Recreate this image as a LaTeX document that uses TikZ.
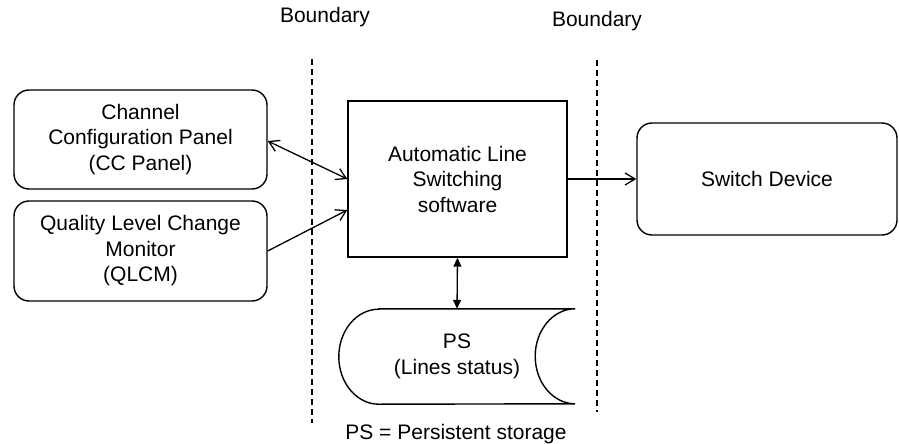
\documentclass[tikz,border=0pt]{standalone}
\usepackage{fontspec}
\setmainfont{Liberation Sans}
\usetikzlibrary{arrows.meta,calc}
\tikzset{
  lbl/.style={font=\fontsize{21}{25.5}\selectfont, align=center, inner sep=0pt},
  rbox/.style={lbl, draw, line width=1.4pt, rounded corners=15pt},
  sbox/.style={lbl, draw, line width=1.4pt},
  conn/.style={line width=1.3pt},
  openhead/.style={-{Straight Barb[length=10pt,width=12pt,line width=1.3pt]}},
  openboth/.style={{Straight Barb[length=10pt,width=12pt,line width=1.3pt]}-{Straight Barb[length=10pt,width=12pt,line width=1.3pt]}},
  fillboth/.style={{Triangle[length=9pt,width=8pt]}-{Triangle[length=9pt,width=8pt]}},
  bound/.style={line width=1.3pt, dash pattern=on 6pt off 4pt},
}
\begin{document}
\begin{tikzpicture}[x=1pt,y=-1pt]
\useasboundingbox (0,0) rectangle (899,444);
\node[rbox, minimum width=253pt, minimum height=99pt] (cc) at (140.5,139.5) {Channel\\Configuration Panel\\(CC Panel)};
\node[rbox, minimum width=253pt, minimum height=100pt] (qlcm) at (140.5,251) {Quality Level Change\\Monitor\\(QLCM)};
\node[sbox, minimum width=219pt, minimum height=156pt] (als) at (457.5,179) {Automatic Line\\Switching\\software};
\node[rbox, minimum width=260pt, minimum height=112pt] (sw) at (767,179) {Switch Device};
\node[lbl, minimum width=236pt, minimum height=95pt] (ps) at (457,356.5) {PS\\(Lines status)};
\draw[line width=1.4pt] ([xshift=40pt]ps.north west) -- (ps.north east)
  arc[start angle=90, end angle=270, x radius=40pt, y radius=47.5pt]
  -- ([xshift=40pt]ps.south west)
  arc[start angle=270, end angle=90, x radius=40pt, y radius=47.5pt] -- cycle;
\node[lbl, anchor=base] (b1) at (325,23) {Boundary};
\node[lbl, anchor=base] (b2) at (597,27) {Boundary};
\node[lbl, anchor=base] (note) at (456,439) {PS = Persistent storage};
\coordinate (b1t) at (312,59);
\coordinate (b1b) at (312,423);
\coordinate (b2t) at (597,60);
\coordinate (b2b) at (597,412);
\draw[bound] (b1t) -- (b1b);
\draw[bound] (b2t) -- (b2b);
\draw[conn, openboth] ([yshift=-1.5pt]cc.east) -- (als.west);
\draw[conn, openhead] (qlcm.east) -- ([yshift=-31pt]als.west);
\draw[conn, openhead] (als.east) -- (sw.west);
\draw[conn, fillboth] (als.south) -- (ps.north);
\end{tikzpicture}
\end{document}
